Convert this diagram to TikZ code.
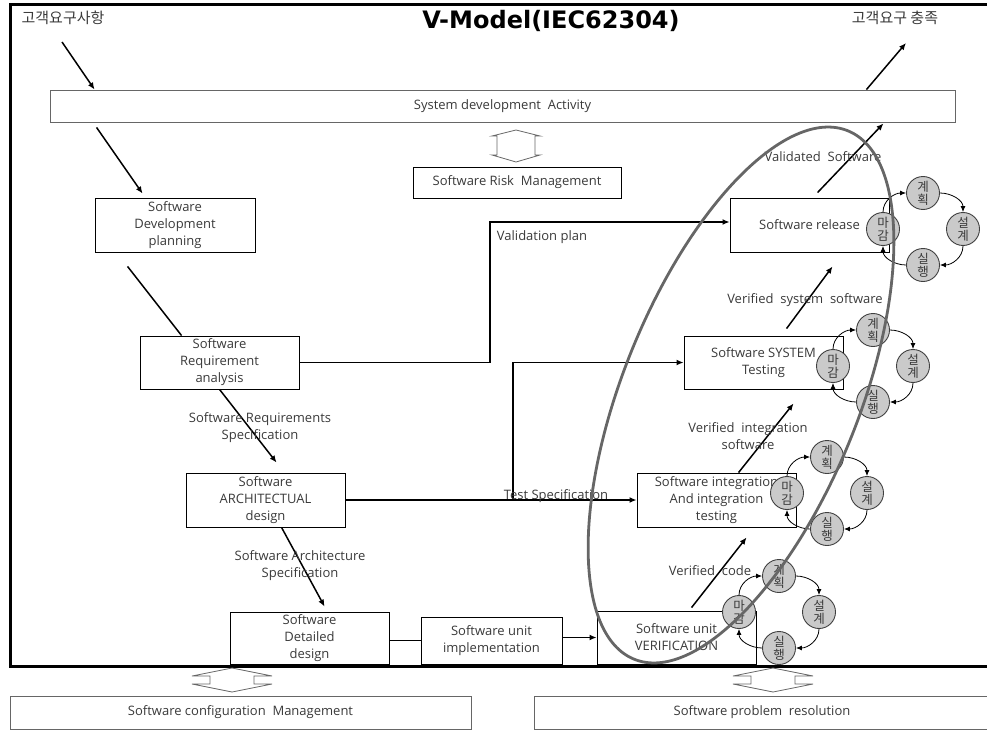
\documentclass[tikz,border=0pt]{standalone}
\usepackage{fontspec}
\setmainfont{Open Sans}
\newfontfamily\kr{Noto Sans CJK KR}
\newfontfamily\headfont{DejaVu Sans}
\usetikzlibrary{arrows.meta}

\definecolor{ink}{HTML}{3A3A3A}
\definecolor{ringgray}{HTML}{666666}
\definecolor{dotfill}{HTML}{CACACA}

\tikzset{
  box/.style={draw=black, line width=0.9pt, fill=white, inner sep=0pt, align=center,
              text=ink, font=\fontsize{13}{17}\selectfont},
  graybox/.style={box, draw=black!60},
  lbl/.style={text=ink, align=center, inner sep=0pt, font=\fontsize{13}{17}\selectfont},
  klbl/.style={text=ink, inner sep=0pt, font=\kr\fontsize{15}{16}\selectfont},
  flow/.style={line width=1.5pt, -{Latex[length=7pt,width=6pt]}},
  link/.style={line width=1.5pt},
  phase/.style={circle, draw=black!75, fill=dotfill, line width=0.9pt, minimum size=33pt,
                inner sep=0pt, align=center, text=ink, font=\kr\fontsize{12.5}{13}\selectfont},
  loopar/.style={line width=0.8pt, -{Latex[length=6pt,width=5pt]}},
  hollow/.style={draw=black!60, line width=0.8pt, fill=white},
  ring/.style={draw=ringgray, line width=2.8pt},
}

% one plan / design / run / close cycle around (cx,cy)
\newcommand\pdcaring[3]{%
  \node[phase] (#1ma) at (#2-40,#3)    {마\\감};
  \node[phase] (#1pl) at (#2,#3+36)    {계\\획};
  \node[phase] (#1de) at (#2+40,#3)    {설\\계};
  \node[phase] (#1ex) at (#2,#3-36)    {실\\행};
  \draw[loopar] (#1ma.north) to[out=90,in=180] (#1pl.west);
  \draw[loopar] (#1pl.east)  to[out=0,in=90]   (#1de.north);
  \draw[loopar] (#1de.south) to[out=-90,in=0]  (#1ex.east);
  \draw[loopar] (#1ex.west)  to[out=180,in=-90] (#1ma.south);
}

\begin{document}
\begin{tikzpicture}[x=1pt,y=1pt]
\useasboundingbox (0,0) rectangle (987,-730);

% outer frame (open on the right)
\draw[line width=3pt] (987,-5) -- (10,-5) -- (10,-666) -- (987,-666);

% heading and customer texts
\node[text=black, inner sep=0pt, font=\headfont\bfseries\fontsize{24}{28}\selectfont] (title) at (551,-21) {V-Model(IEC62304)};
\node[klbl] (custreq)  at (63,-18)  {고객요구사항};
\node[klbl] (custdone) at (895,-18) {고객요구 충족};
\coordinate (reqtail) at (62,-42);
\coordinate (donetip) at (906,-43);

% process boxes
\node[graybox, minimum width=905, minimum height=32] (sysdev) at (502.5,-106) {System development\ \ Activity};
\node[box, minimum width=208, minimum height=31] (risk)    at (517,-182.5)   {Software Risk\ \ Management};
\node[box, minimum width=160, minimum height=54] (devplan) at (175,-225)     {Software\\Development\\planning};
\node[box, minimum width=159, minimum height=53] (reqana)  at (219.5,-362.5) {Software\\Requirement\\analysis};
\node[box, minimum width=159, minimum height=54] (arch)    at (265.5,-500)   {Software\\ARCHITECTUAL\\design};
\node[box, minimum width=159, minimum height=52] (detail)  at (309.5,-638)   {Software\\Detailed\\design};
\node[box, minimum width=141, minimum height=47] (impl)    at (491.5,-640.5) {Software unit\\implementation};
\node[box, minimum width=159, minimum height=53] (unitver) at (676.5,-637.5) {Software unit\\VERIFICATION};
\node[box, minimum width=159, minimum height=54] (integ)   at (716.5,-500)   {Software integration\\And integration\\testing};
\node[box, minimum width=159, minimum height=53] (systest) at (763.5,-362.5) {Software SYSTEM\\Testing};
\node[box, minimum width=159, minimum height=54] (release) at (809.5,-225)   {Software release};

\node[graybox, minimum width=461, minimum height=33] (scm)  at (240.5,-712.5) {Software configuration\ \ Management};
\node[graybox, minimum width=456, minimum height=33] (spr)  at (762,-712.5)   {Software problem\ \ resolution};

% hollow double arrows
\draw[hollow] (492,-136) -- (516,-130) -- (540,-136) -- (535,-136) -- (535,-155) -- (540,-155)
  -- (516,-162) -- (492,-155) -- (497,-155) -- (497,-136) -- cycle;
\draw[hollow] (192,-676) -- (232,-668) -- (272,-676) -- (254,-676) -- (254,-684) -- (272,-684)
  -- (232,-692) -- (192,-684) -- (210,-684) -- (210,-676) -- cycle;
\draw[hollow] (733,-676) -- (773,-668) -- (813,-676) -- (795,-676) -- (795,-684) -- (813,-684)
  -- (773,-692) -- (733,-684) -- (751,-684) -- (751,-676) -- cycle;

% left leg of the V
\draw[flow] (reqtail) -- ([xshift=45pt]sysdev.north west);
\draw[flow] ([shift={(47pt,-5pt)}]sysdev.south west) -- ([shift={(48pt,4pt)}]devplan.north west);
\draw[link] ([shift={(33pt,-14pt)}]devplan.south west) -- ([xshift=42pt]reqana.north west);
\draw[flow] ([xshift=80pt]reqana.south west) -- ([shift={(91pt,10pt)}]arch.north west);
\draw[flow] ([xshift=96pt]arch.south west) -- ([shift={(95pt,5pt)}]detail.north west);
\draw[link] (detail.east |- impl.west) -- (impl.west);
\draw[flow] (impl.east |- unitver.west) -- (unitver.west);

% right leg of the V
\draw[flow] ([shift={(95pt,3pt)}]unitver.north west) -- ([shift={(110pt,-10pt)}]integ.south west);
\draw[flow] ([xshift=102pt]integ.north west) -- ([shift={(110pt,-14pt)}]systest.south west);
\draw[flow] ([shift={(103pt,7pt)}]systest.north west) -- ([shift={(103pt,-14pt)}]release.south west);
\draw[flow] ([shift={(88pt,5pt)}]release.north west) -- ([shift={(-72pt,-1pt)}]sysdev.south east);
\draw[flow] ([xshift=-89pt]sysdev.north east) -- (donetip);

% plans across the V
\draw[flow] (reqana.east) -- ++(190.5pt,0) |- ([yshift=3pt]release.west);
\draw[flow] (arch.east) -- (integ.west);
\coordinate (tsplit) at (513,-500);
\draw[flow] (tsplit) |- (systest.west);

% connector labels
\node[lbl] (lvalp) at (542,-237) {Validation plan};
\node[lbl] (lvals) at (823,-157) {Validated\ \ Software};
\node[lbl] (lvsys) at (805,-300) {Verified\ \ system\ \ software};
\node[lbl] (lvint) at (748,-436) {Verified\ \ integration\\software};
\node[lbl] (ltest) at (556,-496) {Test Specification};
\node[lbl] (lcode) at (710,-571) {Verified\ \ code};
\node[lbl] (lsrs)  at (260,-428) {Software Requirements\\Specification};
\node[lbl] (lsas)  at (300,-566) {Software Architecture\\Specification};

% activity cycles
\pdcaring{rel}{923}{-229}
\pdcaring{sys}{873}{-366}
\pdcaring{itg}{827}{-493}
\pdcaring{unt}{779}{-612}

% verification / validation ring
\draw[ring, rotate around={68:(741,-395)}] (741,-395) ellipse [x radius=285, y radius=118];
\end{tikzpicture}
\end{document}
